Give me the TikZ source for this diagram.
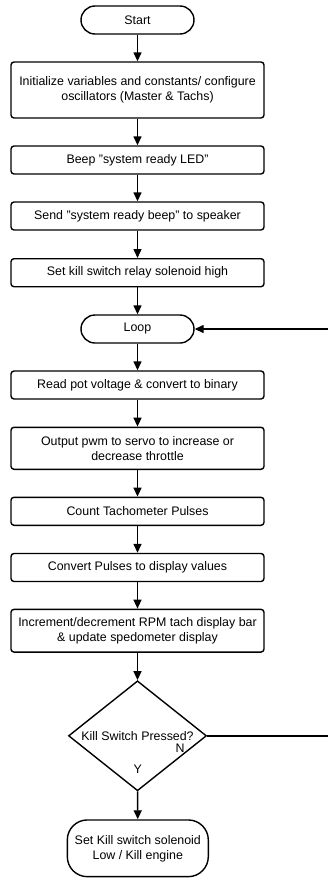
\documentclass[tikz,border=0pt]{standalone}
\usepackage{fontspec}
\setmainfont{Liberation Sans}
\usetikzlibrary{arrows.meta,shapes.geometric}
\tikzset{
    every node/.style={font=\fontsize{12.4}{15}\selectfont},
    box/.style={draw, line width=1.4pt, rectangle, rounded corners=3pt, minimum width=253pt, minimum height=28pt, align=center, inner sep=0pt},
    term/.style={draw, line width=1.4pt, rectangle, rounded corners=14pt, minimum width=113pt, minimum height=28pt},
    dec/.style={draw, line width=1.4pt, diamond, minimum width=138pt, minimum height=110pt, inner sep=0pt},
    flow/.style={-{Triangle[length=9pt,width=8pt]}, line width=1.4pt},
    lbl/.style={inner sep=0pt}
}
\begin{document}
\begin{tikzpicture}[x=1pt,y=-1pt]
\useasboundingbox (0,0) rectangle (327,878);

\node[term] at (137.5,20) (start) {Start};
\node[box,minimum height=56pt] at (137.5,90) (init) {Initialize variables and constants/ configure\\oscillators (Master \& Tachs)};
\node[box] at (137.5,160) (beep) {Beep "system ready LED"};
\node[box] at (137.5,216) (send) {Send "system ready beep" to speaker};
\node[box] at (137.5,272.7) (relay) {Set kill switch relay solenoid high};

\node[term] at (137.5,329) (loop) {Loop};
\node[box] at (137.5,385) (read) {Read pot voltage \& convert to binary};
\node[box,minimum height=42pt] at (137.5,448.3) (pwm) {Output pwm to servo to increase or\\decrease throttle};
\node[box] at (137.5,511.3) (count) {Count Tachometer Pulses};
\node[box] at (137.5,567.5) (conv) {Convert Pulses to display values};
\node[box,minimum height=42.7pt] at (137.5,630.7) (incr) {Increment/decrement RPM tach display bar\\\& update spedometer display};

\node[dec,label=center:{Kill Switch Pressed?}] at (137.5,735.8) (kill) {};
\node[lbl] at (180,748.3) (no) {N};
\node[lbl] at (137.7,769.3) (yes) {Y};

\node[term,rounded corners=20pt,minimum width=141pt,minimum height=56.7pt,align=center] at (137.8,848.3) (stop) {Set Kill switch solenoid\\Low / Kill engine};

\foreach \a/\b in {start/init, init/beep, beep/send, send/relay, relay/loop, loop/read, read/pwm, pwm/count, count/conv, conv/incr, incr/kill, kill/stop}
    \draw[flow] (\a) -- (\b);

% back to the loop
\coordinate (back) at (335,0);
\draw[flow] (kill.east) -- (kill.east -| back) -- (loop.east -| back) -- (loop.east);
\end{tikzpicture}
\end{document}
